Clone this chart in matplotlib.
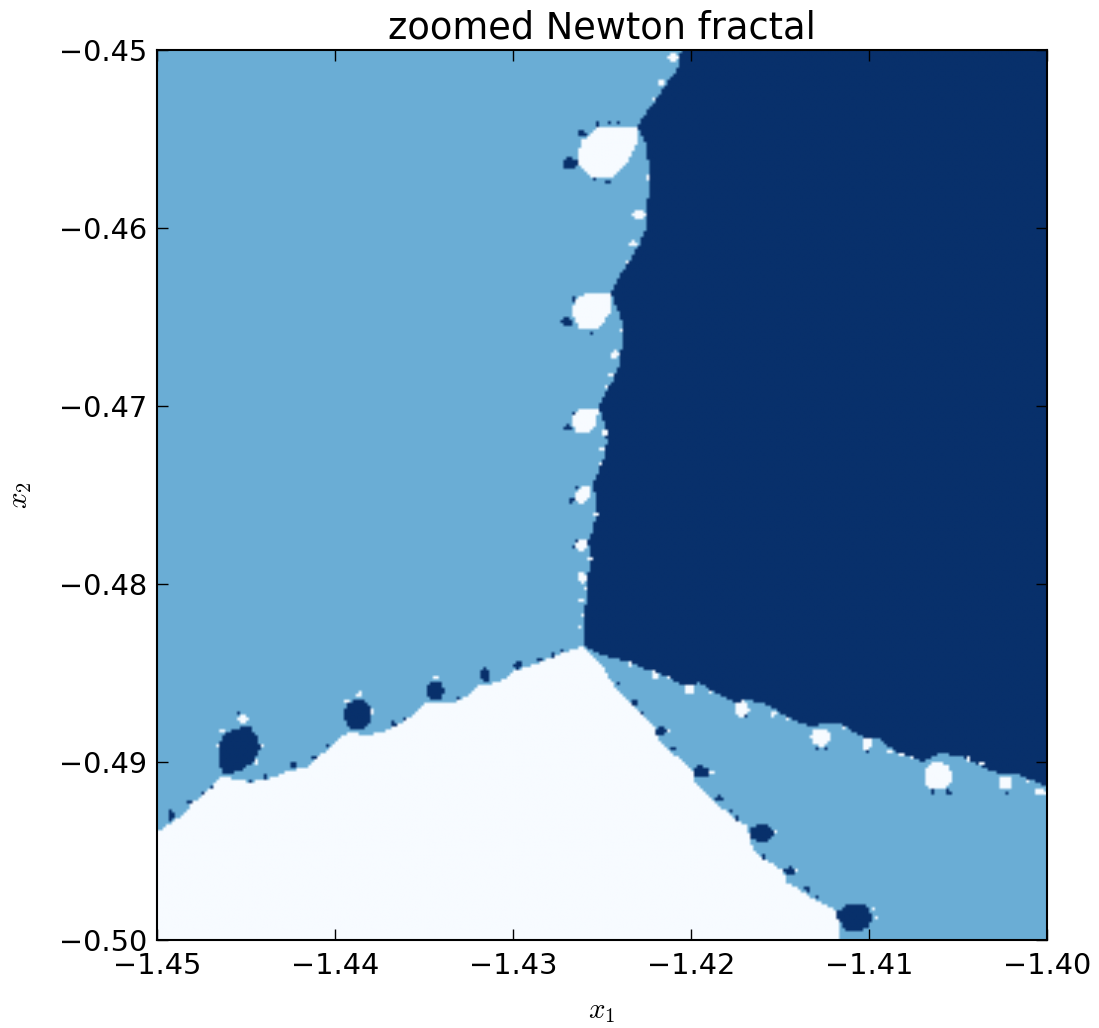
import numpy as np
import matplotlib
matplotlib.use('Agg')
import matplotlib.pyplot as plt
from matplotlib.path import Path

x_ticks = [-1.45, -1.44, -1.43, -1.42, -1.41, -1.40]
y_ticks = [-0.50, -0.49, -0.48, -0.47, -0.46, -0.45]

# basin codes: 0 white root, 1 middle root, 2 dark root
# boundaries, in (x1, x2)
dark_basin = [(-1.42056, -0.45), (-1.42079, -0.45124), (-1.42135, -0.45185), (-1.42191, -0.45270),
              (-1.42270, -0.45376), (-1.42298, -0.45427), (-1.42258, -0.45522), (-1.42242, -0.45618),
              (-1.42230, -0.45730), (-1.42242, -0.45843), (-1.42247, -0.45994), (-1.42298, -0.46107),
              (-1.42354, -0.46197), (-1.42416, -0.46292), (-1.42449, -0.46371), (-1.42410, -0.46461),
              (-1.42388, -0.46534), (-1.42388, -0.46646), (-1.42399, -0.46758), (-1.42438, -0.46854),
              (-1.42494, -0.46949), (-1.42522, -0.47011), (-1.42483, -0.47096), (-1.42472, -0.47208),
              (-1.42494, -0.47303), (-1.42522, -0.47371), (-1.42556, -0.47449), (-1.42528, -0.47528),
              (-1.42528, -0.47601), (-1.42556, -0.47713), (-1.42579, -0.47764), (-1.42562, -0.47865),
              (-1.42579, -0.47961), (-1.42579, -0.48051), (-1.42596, -0.48146), (-1.42607, -0.48348),
              (-1.42494, -0.48399), (-1.42343, -0.48444), (-1.42219, -0.48494), (-1.42129, -0.48522),
              (-1.42045, -0.48567), (-1.41949, -0.48556), (-1.41876, -0.48607), (-1.41753, -0.48663),
              (-1.41669, -0.48652), (-1.41573, -0.48680), (-1.41444, -0.48753), (-1.41331, -0.48803),
              (-1.41219, -0.48775), (-1.41135, -0.48798), (-1.41039, -0.48860), (-1.40955, -0.48865),
              (-1.40843, -0.48944), (-1.40702, -0.49000), (-1.40601, -0.48949), (-1.40472, -0.48972),
              (-1.40320, -0.49045), (-1.40247, -0.49067), (-1.40152, -0.49073), (-1.40, -0.49140),
              (-1.40, -0.45)]

white_basin = [(-1.45, -0.49393), (-1.44871, -0.49309), (-1.44798, -0.49230), (-1.44646, -0.49090),
               (-1.44590, -0.49090), (-1.44478, -0.49112), (-1.44382, -0.49101), (-1.44292, -0.49062),
               (-1.44157, -0.49028), (-1.44028, -0.48916), (-1.43927, -0.48831), (-1.43843, -0.48848),
               (-1.43747, -0.48837), (-1.43618, -0.48781), (-1.43494, -0.48669), (-1.43354, -0.48674),
               (-1.43230, -0.48612), (-1.43185, -0.48567), (-1.43073, -0.48551), (-1.42989, -0.48489),
               (-1.42888, -0.48455), (-1.42775, -0.48410), (-1.42607, -0.48348), (-1.42483, -0.48483),
               (-1.42427, -0.48584), (-1.42331, -0.48669), (-1.42202, -0.48803), (-1.42185, -0.48876),
               (-1.42045, -0.49000), (-1.41989, -0.49056), (-1.41978, -0.49118), (-1.41837, -0.49253),
               (-1.41680, -0.49365), (-1.41669, -0.49438), (-1.41629, -0.49522), (-1.41483, -0.49607),
               (-1.41461, -0.49674), (-1.41348, -0.49747), (-1.41180, -0.49831), (-1.41163, -0.50),
               (-1.45, -0.50)]

# the bigger bulbs have an outline of their own
white_bulbs = [
    [(-1.42528, -0.45433), (-1.42303, -0.45427), (-1.42303, -0.45522), (-1.42354, -0.45635),
     (-1.42438, -0.45713), (-1.42567, -0.45713), (-1.42629, -0.45646), (-1.42624, -0.45522)],
    [(-1.42607, -0.46376), (-1.42449, -0.46365), (-1.42455, -0.46472), (-1.42522, -0.46573),
     (-1.42624, -0.46562), (-1.42669, -0.46489), (-1.42652, -0.46404)],
    [(-1.42607, -0.47011), (-1.42522, -0.47011), (-1.42528, -0.47090), (-1.42567, -0.47146),
     (-1.42635, -0.47152), (-1.42669, -0.47107), (-1.42663, -0.47051)],
    [(-1.42612, -0.47455), (-1.42562, -0.47455), (-1.42562, -0.47511), (-1.42607, -0.47551),
     (-1.42652, -0.47528), (-1.42657, -0.47489)],
]
dark_bulbs = [
    [(-1.44478, -0.48798), (-1.44433, -0.48860), (-1.44421, -0.48921), (-1.44461, -0.49000),
     (-1.44534, -0.49056), (-1.44629, -0.49062), (-1.44652, -0.49006), (-1.44657, -0.48933),
     (-1.44635, -0.48860), (-1.44573, -0.48815)],
    [(-1.41180, -0.49843), (-1.41118, -0.49803), (-1.41022, -0.49803), (-1.40978, -0.49860),
     (-1.40994, -0.49916), (-1.41051, -0.49955), (-1.41129, -0.49944), (-1.41174, -0.49888)],
]

# small spots: x1, x2, half width, half height
white_spots = [(-1.42101, -0.45039, .00028, .00022), (-1.42163, -0.45185, .00022, .00017),
               (-1.42213, -0.45275, .00011, .00011), (-1.42292, -0.45927, .00034, .00028),
               (-1.42326, -0.46090, .00022, .00017), (-1.42242, -0.45719, .00017, .00017),
               (-1.42365, -0.46197, .00011, .00011), (-1.42427, -0.46713, .00022, .00022),
               (-1.42444, -0.46826, .00017, .00011), (-1.42472, -0.46893, .00011, .00011),
               (-1.42483, -0.47152, .00011, .00017), (-1.42500, -0.47247, .00011, .00011),
               (-1.42511, -0.47320, .00011, .00006), (-1.42539, -0.47607, .00017, .00011),
               (-1.42612, -0.47781, .00034, .00034), (-1.42612, -0.47966, .00028, .00028),
               (-1.42612, -0.48090, .00017, .00011), (-1.42612, -0.48174, .00011, .00006),
               (-1.42618, -0.48236, .00011, .00006), (-1.42567, -0.47854, .00011, .00011),
               (-1.42584, -0.48017, .00011, .00011), (-1.42393, -0.46573, .00011, .00011),
               (-1.42343, -0.48449, .00017, .00011), (-1.42202, -0.48511, .00017, .00022),
               (-1.42129, -0.48528, .00011, .00011), (-1.42006, -0.48590, .00028, .00028),
               (-1.41888, -0.48607, .00011, .00011), (-1.41713, -0.48702, .00039, .00045),
               (-1.41539, -0.48730, .00017, .00017), (-1.41455, -0.48764, .00011, .00011),
               (-1.41270, -0.48860, .00056, .00051), (-1.41011, -0.48899, .00028, .00034),
               (-1.40882, -0.48938, .00017, .00011), (-1.40815, -0.48961, .00011, .00011),
               (-1.40758, -0.48978, .00017, .00006), (-1.40612, -0.49079, .00079, .00079),
               (-1.40444, -0.48983, .00017, .00011), (-1.40365, -0.49006, .00011, .00011),
               (-1.40236, -0.49118, .00039, .00039), (-1.40039, -0.49169, .00034, .00022),
               (-1.40112, -0.49101, .00011, .00006), (-1.41146, -0.48803, .00011, .00011),
               (-1.44517, -0.48758, .00028, .00028), (-1.43860, -0.48618, .00017, .00017),
               (-1.44635, -0.48831, .00022, .00011), (-1.43933, -0.48663, .00017, .00006),
               (-1.43427, -0.48528, .00017, .00006), (-1.44404, -0.48910, .00011, .00011),
               (-1.44663, -0.48904, .00011, .00011), (-1.44444, -0.49000, .00011, .00011),
               (-1.43792, -0.48719, .00011, .00011), (-1.41517, -0.49399, .00011, .00011),
               (-1.41882, -0.49062, .00011, .00011), (-1.41404, -0.49612, .00011, .00011),
               (-1.42135, -0.48826, .00011, .00011), (-1.40955, -0.49876, .00011, .00011),
               (-1.40978, -0.49820, .00011, .00011)]

dark_spots = [(-1.42680, -0.45640, .00045, .00034), (-1.42612, -0.45472, .00022, .00017),
              (-1.42466, -0.45742, .00017, .00011), (-1.42522, -0.45416, .00011, .00011),
              (-1.42545, -0.45725, .00011, .00006), (-1.42410, -0.45410, .00011, .00006),
              (-1.42455, -0.45410, .00006, .00006), (-1.42697, -0.46528, .00034, .00022),
              (-1.42663, -0.46404, .00011, .00017), (-1.42551, -0.46584, .00011, .00011),
              (-1.42691, -0.47124, .00022, .00017), (-1.42663, -0.47045, .00011, .00011),
              (-1.42674, -0.47528, .00017, .00017), (-1.42635, -0.47455, .00006, .00006),
              (-1.42646, -0.47764, .00006, .00006), (-1.42657, -0.47798, .00006, .00006),
              (-1.43871, -0.48736, .00079, .00084), (-1.43438, -0.48601, .00051, .00056),
              (-1.44236, -0.49017, .00022, .00022), (-1.44118, -0.48972, .00011, .00017),
              (-1.44815, -0.49225, .00017, .00017), (-1.44921, -0.49298, .00017, .00028),
              (-1.44545, -0.48730, .00011, .00011), (-1.44697, -0.49135, .00011, .00011),
              (-1.44747, -0.49169, .00011, .00011), (-1.44478, -0.49107, .00011, .00006),
              (-1.44393, -0.49084, .00011, .00011), (-1.44045, -0.48916, .00006, .00006),
              (-1.43674, -0.48787, .00017, .00017), (-1.43601, -0.48758, .00006, .00017),
              (-1.43157, -0.48511, .00028, .00039), (-1.42972, -0.48455, .00022, .00022),
              (-1.42854, -0.48421, .00017, .00011), (-1.42775, -0.48393, .00011, .00017),
              (-1.42719, -0.48371, .00006, .00006), (-1.43315, -0.48635, .00011, .00011),
              (-1.42315, -0.48663, .00022, .00017), (-1.42169, -0.48826, .00034, .00022),
              (-1.42101, -0.48921, .00017, .00011), (-1.41944, -0.49056, .00045, .00034),
              (-1.41843, -0.49208, .00022, .00017), (-1.41601, -0.49399, .00067, .00051),
              (-1.41444, -0.49612, .00034, .00022), (-1.41343, -0.49713, .00017, .00017),
              (-1.41287, -0.49764, .00017, .00006), (-1.41770, -0.49281, .00011, .00006),
              (-1.41742, -0.49315, .00011, .00011), (-1.41596, -0.49534, .00011, .00011),
              (-1.42410, -0.48556, .00011, .00006), (-1.42270, -0.48730, .00011, .00011),
              (-1.41292, -0.48921, .00006, .00006), (-1.41236, -0.48927, .00011, .00017),
              (-1.41006, -0.48938, .00011, .00006), (-1.40640, -0.49169, .00011, .00011),
              (-1.40556, -0.49174, .00017, .00017), (-1.40219, -0.49174, .00006, .00011),
              (-1.41691, -0.48747, .00011, .00006)]

N = 300


def fill_polygon(grid, pts, xy, code):
    mask = Path(pts).contains_points(xy).reshape(grid.shape)
    grid[mask] = code


def fill_spots(grid, spots, X, Y, x, y, code):
    for sx, sy, rx, ry in spots:
        grid[((X - sx) / rx) ** 2 + ((Y - sy) / ry) ** 2 <= 1] = code
        # tiny spots still take the cell they fall in
        i = np.abs(y - sy).argmin()
        j = np.abs(x - sx).argmin()
        grid[i, j] = code


x = np.linspace(-1.45, -1.40, N, endpoint=False) + 0.05 / N / 2
y = np.linspace(-0.50, -0.45, N, endpoint=False) + 0.05 / N / 2
X, Y = np.meshgrid(x, y)
xy = np.column_stack([X.ravel(), Y.ravel()])

basin = np.ones((N, N))
fill_polygon(basin, dark_basin, xy, 2)
fill_polygon(basin, white_basin, xy, 0)
for b in white_bulbs:
    fill_polygon(basin, b, xy, 0)
for b in dark_bulbs:
    fill_polygon(basin, b, xy, 2)
fill_spots(basin, white_spots, X, Y, x, y, 0)
fill_spots(basin, dark_spots, X, Y, x, y, 2)

plt.rcParams['mathtext.fontset'] = 'cm'

fig = plt.figure(figsize=(10.99, 10.28), dpi=100)
ax = fig.add_axes([157 / 1099, 88 / 1028, 890 / 1099, 890 / 1028])
# blend after the colour map, the reference is a little soft
ax.imshow(basin, origin='lower', extent=(-1.45, -1.40, -0.50, -0.45), aspect='auto',
          cmap='Blues', vmin=0, vmax=2, interpolation='bilinear', interpolation_stage='rgba')
ax.set_xlim(-1.45, -1.40)
ax.set_ylim(-0.50, -0.45)
ax.set_xticks(x_ticks)
ax.set_yticks(y_ticks)
ax.set_xticklabels(['\u2212%.2f' % abs(v) for v in x_ticks])
ax.set_yticklabels(['\u2212%.2f' % abs(v) for v in y_ticks])
ax.tick_params(direction='in', top=True, right=True, length=8, width=1, labelsize=20.7)
ax.tick_params(axis='x', pad=9)
ax.tick_params(axis='y', pad=7)
for s in ax.spines.values():
    s.set_linewidth(1.5)
ax.set_title('zoomed Newton fractal', fontsize=26.5, pad=8)
ax.set_xlabel('$x_1$', fontsize=21, labelpad=12)
ax.set_ylabel('$x_2$', fontsize=21, labelpad=18)

fig.savefig('out.png', dpi=100)
